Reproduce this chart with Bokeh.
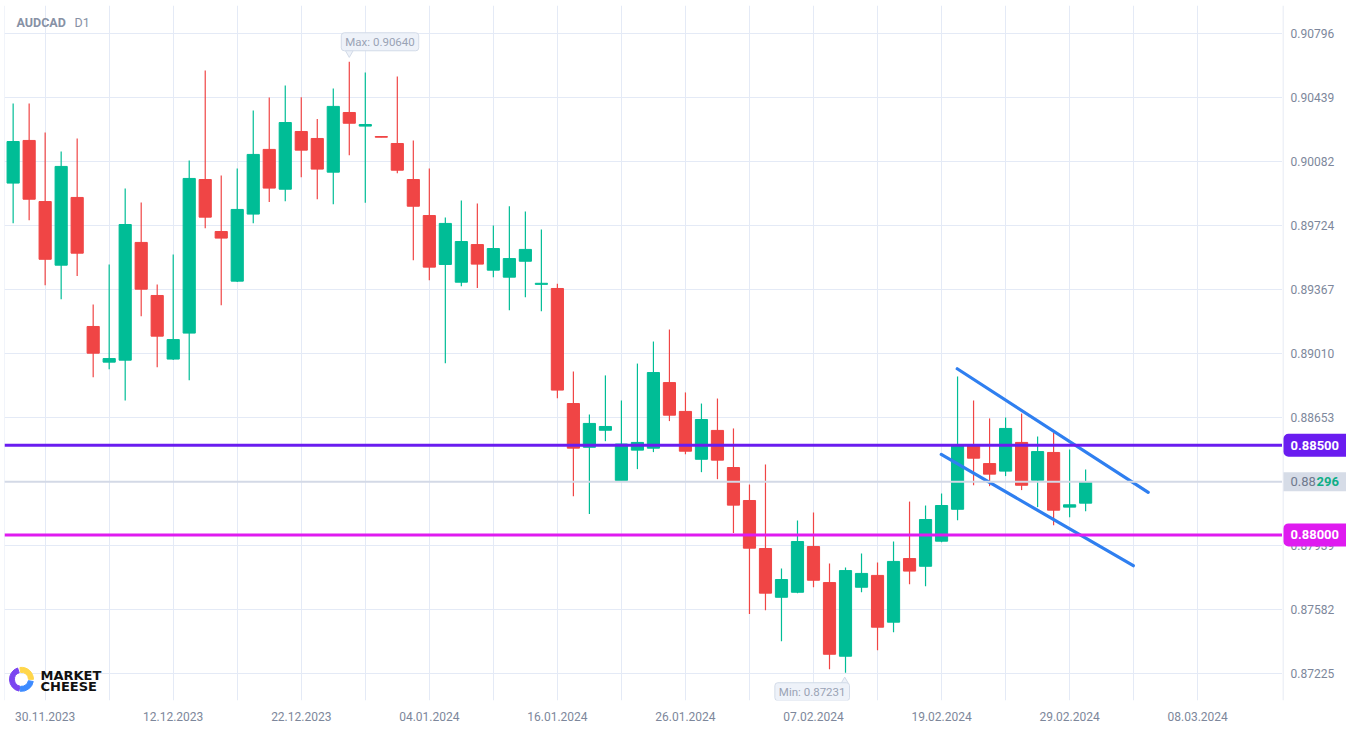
from bokeh.plotting import figure
from bokeh.layouts import row
from bokeh.models import (Range1d, FixedTicker, Span, Label, ColumnDataSource)
from bokeh.core.properties import value
from bokeh.embed import file_html
from bokeh.resources import INLINE

# ---------------- data ----------------
symbol = "AUDCAD"
timeframe = "D1"

opens = [0.89963, 0.90201, 0.89860, 0.89505, 0.89883, 0.89163, 0.88964, 0.88975, 0.89632, 0.89336,
         0.88981, 0.89126, 0.89983, 0.89693, 0.89416, 0.89790, 0.90151, 0.89929, 0.90251, 0.90212,
         0.90024, 0.90357, 0.90281, 0.90223, 0.90184, 0.89983, 0.89782, 0.89509, 0.89410, 0.89620,
         0.89477, 0.89438, 0.89527, 0.89398, 0.89375, 0.88733, 0.88489, 0.88584, 0.88304, 0.88473,
         0.88484, 0.88850, 0.88689, 0.88422, 0.88583, 0.88376, 0.88192, 0.87924, 0.87652, 0.87680,
         0.87935, 0.87734, 0.87323, 0.87708, 0.87774, 0.87513, 0.87868, 0.87825, 0.87965, 0.88143,
         0.88499, 0.88398, 0.88356, 0.88516, 0.88305, 0.88460, 0.88155, 0.88177]
highs = [0.90407, 0.90407, 0.90245, 0.90139, 0.90212, 0.89286, 0.89509, 0.89933, 0.89855, 0.89397,
         0.89565, 0.90089, 0.90591, 0.90006, 0.90045, 0.90368, 0.90441, 0.90508, 0.90442, 0.90320,
         0.90491, 0.90640, 0.90580, 0.90223, 0.90558, 0.90201, 0.90045, 0.89771, 0.89866, 0.89849,
         0.89727, 0.89834, 0.89805, 0.89704, 0.89401, 0.88912, 0.88672, 0.88890, 0.88750, 0.88956,
         0.89079, 0.89146, 0.88795, 0.88733, 0.88761, 0.88594, 0.88281, 0.88393, 0.87813, 0.88080,
         0.88125, 0.87840, 0.87818, 0.87896, 0.87846, 0.87963, 0.88186, 0.88164, 0.88231, 0.88884,
         0.88750, 0.88650, 0.88655, 0.88677, 0.88549, 0.88571, 0.88477, 0.88365]
lows = [0.89739, 0.89756, 0.89393, 0.89315, 0.89444, 0.88880, 0.88925, 0.88750, 0.89220, 0.88936,
        0.88976, 0.88863, 0.89711, 0.89282, 0.89411, 0.89739, 0.89857, 0.89862, 0.89996, 0.89873,
        0.89845, 0.90119, 0.89853, 0.90219, 0.90018, 0.89533, 0.89421, 0.88958, 0.89388, 0.89377,
        0.89438, 0.89254, 0.89326, 0.89248, 0.88763, 0.88216, 0.88116, 0.88523, 0.88301, 0.88367,
        0.88462, 0.88635, 0.88450, 0.88350, 0.88311, 0.88010, 0.87558, 0.87580, 0.87407, 0.87675,
        0.87708, 0.87251, 0.87231, 0.87680, 0.87357, 0.87457, 0.87725, 0.87714, 0.87959, 0.88082,
        0.88277, 0.88272, 0.88328, 0.88250, 0.88155, 0.88054, 0.88099, 0.88132]
closes = [0.90195, 0.89873, 0.89538, 0.90056, 0.89572, 0.89014, 0.88984, 0.89732, 0.89371, 0.89109,
          0.89090, 0.89989, 0.89773, 0.89656, 0.89816, 0.90123, 0.89935, 0.90301, 0.90147, 0.90041,
          0.90391, 0.90297, 0.90290, 0.90219, 0.90035, 0.89834, 0.89494, 0.89738, 0.89637, 0.89511,
          0.89598, 0.89542, 0.89593, 0.89404, 0.88808, 0.88484, 0.88622, 0.88605, 0.88507, 0.88516,
          0.88906, 0.88668, 0.88467, 0.88644, 0.88417, 0.88166, 0.87926, 0.87675, 0.87751, 0.87963,
          0.87747, 0.87334, 0.87801, 0.87785, 0.87485, 0.87852, 0.87798, 0.88086, 0.88164, 0.88499,
          0.88428, 0.88339, 0.88594, 0.88277, 0.88465, 0.88138, 0.88168, 0.88296]

date_labels = ["30.11.2023", "12.12.2023", "22.12.2023", "04.01.2024", "16.01.2024",
               "26.01.2024", "07.02.2024", "19.02.2024", "29.02.2024", "08.03.2024"]
date_label_index = [2, 10, 18, 26, 34, 42, 50, 58, 66, 74]

price_ticks = [0.87225, 0.87582, 0.87939, 0.88296, 0.88653, 0.89010,
               0.89367, 0.89724, 0.90082, 0.90439, 0.90796]
last_price = 0.88296
level_upper = 0.88500
level_lower = 0.88000
max_price, max_index = 0.90640, 21
min_price, min_index = 0.87231, 52

channel_upper_x = [58.98, 70.91]
channel_upper_y = [0.88927, 0.88237]
channel_lower_x = [57.98, 69.98]
channel_lower_y = [0.88449, 0.87828]

# ---------------- style ----------------
GREEN = "#00bd96"
RED = "#f04545"
GRID = "#e4eaf6"
TXT = "#7d879b"
FONT = "Roboto"
PURPLE = "#6a1cf0"
MAGENTA = "#df1bf0"
BLUE = "#2f7ff0"
TIP_BG, TIP_BORDER, TIP_TXT = "#eef2f9", "#d3dbe8", "#9aa3b5"

W, H = 1346, 729
AXW = 64                      # width of the price scale strip
BL, BT, BB = 4, 5, 29
X0, X1 = -0.54, 79.3
Y0, Y1 = 0.87076, 0.90954
PPU = (H - BT - BB) / (Y1 - Y0)   # pixels per price unit

# ---------------- main chart ----------------
p = figure(width=W - AXW, height=H, output_backend="svg", toolbar_location=None,
           x_range=Range1d(X0, X1), y_range=Range1d(Y0, Y1),
           min_border_left=BL, min_border_right=0, min_border_top=BT, min_border_bottom=BB,
           background_fill_color="white", border_fill_color="white",
           outline_line_color=None, y_axis_location=None)

p.xgrid.ticker = FixedTicker(ticks=list(range(date_label_index[0], date_label_index[-1] + 1, 4)))
p.ygrid.ticker = FixedTicker(ticks=price_ticks)
p.xgrid.grid_line_color = GRID
p.ygrid.grid_line_color = GRID
p.add_layout(Span(location=X0, dimension="height", line_color=GRID, line_width=1, level="underlay"))

xa = p.xaxis[0]
xa.ticker = FixedTicker(ticks=date_label_index)
xa.major_label_overrides = {i: d for i, d in zip(date_label_index, date_labels)}
xa.axis_line_color = None
xa.major_tick_line_color = None
xa.minor_tick_line_color = None
xa.major_label_text_color = TXT
xa.major_label_text_font = FONT
xa.major_label_text_font_size = "12px"
xa.major_label_standoff = 5

# candles
up = [i for i in range(len(opens)) if closes[i] >= opens[i]]
dn = [i for i in range(len(opens)) if closes[i] < opens[i]]
for ids, col in ((up, GREEN), (dn, RED)):
    src = ColumnDataSource(dict(
        x=ids,
        top=[max(opens[i], closes[i]) for i in ids],
        bottom=[min(opens[i], closes[i]) for i in ids],
        high=[highs[i] for i in ids],
        low=[lows[i] for i in ids]))
    p.segment(x0="x", y0="high", x1="x", y1="low", source=src, line_color=col, line_width=1.2)
    p.vbar(x="x", width=0.76, top="top", bottom="bottom", source=src,
           fill_color=col, line_color=col, line_width=1)

# price / level lines
p.add_layout(Span(location=last_price, dimension="width", line_color="#d3d9e6", line_width=2))
p.add_layout(Span(location=level_upper, dimension="width", line_color=PURPLE, line_width=3))
p.add_layout(Span(location=level_lower, dimension="width", line_color=MAGENTA, line_width=3))

# channel
p.line(channel_upper_x, channel_upper_y, line_color=BLUE, line_width=3.2, line_cap="round")
p.line(channel_lower_x, channel_lower_y, line_color=BLUE, line_width=3.2, line_cap="round")

# max / min callouts (pointer + box)
p.scatter(x=[max_index], y=[max_price + 9 / PPU], marker="inverted_triangle", size=8,
          fill_color=TIP_BG, line_color=TIP_BORDER)
p.scatter(x=[min_index - 0.05], y=[min_price - 9 / PPU], marker="triangle", size=8,
          fill_color=TIP_BG, line_color=TIP_BORDER)
p.add_layout(Label(x=max_index, y=max_price, x_offset=-8, y_offset=11, text=f"Max: {max_price:.5f}",
                   text_baseline="bottom", text_align="left", text_color=TIP_TXT,
                   text_font=FONT, text_font_size="11.5px",
                   background_fill_color=TIP_BG, border_line_color=TIP_BORDER, border_radius=3,
                   padding=dict(left=4, right=4, top=2, bottom=2)))
p.add_layout(Label(x=min_index, y=min_price, x_offset=4, y_offset=-10, text=f"Min: {min_price:.5f}",
                   text_baseline="top", text_align="right", text_color=TIP_TXT,
                   text_font=FONT, text_font_size="11.5px",
                   background_fill_color=TIP_BG, border_line_color=TIP_BORDER, border_radius=3,
                   padding=dict(left=4, right=4, top=2, bottom=2)))

# title
p.add_layout(Label(x=X0, y=Y1, x_offset=12, y_offset=-17, text=symbol, text_baseline="middle",
                   text_color="#8791a5", text_font=FONT, text_font_size="12.5px",
                   text_font_style="bold"))
p.add_layout(Label(x=X0, y=Y1, x_offset=70, y_offset=-17, text=timeframe, text_baseline="middle",
                   text_color="#8791a5", text_font=FONT, text_font_size="12.5px"))

# logo
p.add_layout(Label(x=X0, y=Y0, x_offset=36, y_offset=25, text="MARKET", text_baseline="middle",
                   text_color="#111111", text_font="DejaVu Sans", text_font_size="13px",
                   text_font_style="bold"))
p.add_layout(Label(x=X0, y=Y0, x_offset=36, y_offset=14, text="CHEESE", text_baseline="middle",
                   text_color="#111111", text_font="DejaVu Sans", text_font_size="13px",
                   text_font_style="bold"))
lx, ly = 0.52, 0.87194
p.annular_wedge(x=[lx], y=[ly], inner_radius=7, outer_radius=12, inner_radius_units="screen",
                outer_radius_units="screen", start_angle=1.9, end_angle=4.5, color="#7b45f0")
p.annular_wedge(x=[lx], y=[ly], inner_radius=7, outer_radius=12, inner_radius_units="screen",
                outer_radius_units="screen", start_angle=0.0, end_angle=1.7, color="#ffd64a")
p.annular_wedge(x=[lx], y=[ly], inner_radius=7, outer_radius=12, inner_radius_units="screen",
                outer_radius_units="screen", start_angle=4.6, end_angle=6.1, color="#3d8bff")

# ---------------- price scale strip ----------------
q = figure(width=AXW, height=H, output_backend="svg", toolbar_location=None,
           x_range=Range1d(0, AXW), y_range=p.y_range,
           min_border_left=0, min_border_right=0, min_border_top=BT, min_border_bottom=BB,
           background_fill_color="white", border_fill_color="white",
           outline_line_color=None, x_axis_location=None, y_axis_location=None)
q.xgrid.visible = False
q.ygrid.visible = False
q.add_layout(Span(location=0.5, dimension="height", line_color="#dde4f0", line_width=1))

scale_ticks = [t for t in price_ticks if abs(t - last_price) > 1e-6]
q.text(x=[8] * len(scale_ticks), y=scale_ticks, text=[f"{t:.5f}" for t in scale_ticks],
       text_baseline="middle", text_align="left", text_color=TXT,
       text_font=value(FONT), text_font_size="12px")

def axis_box(txt, v, bg, fg):
    q.add_layout(Label(x=1, y=v, text=txt, text_baseline="middle", text_align="left",
                       text_color=fg, text_font=FONT, text_font_size="13px", text_font_style="bold",
                       background_fill_color=bg, border_radius=5,
                       padding=dict(left=7, right=14, top=7, bottom=7)))

axis_box(f"{level_upper:.5f}", level_upper, PURPLE, "white")
axis_box(f"{level_lower:.5f}", level_lower, MAGENTA, "white")
lp = f"{last_price:.5f}"
q.add_layout(Label(x=1, y=last_price, text=lp[:4], text_baseline="middle", text_align="left",
                   text_color="#6f7a8e", text_font=FONT, text_font_size="13px",
                   background_fill_color="#d6dce7", padding=dict(left=7, right=40, top=5, bottom=5)))
q.add_layout(Label(x=34, y=last_price, text=lp[4:], text_baseline="middle", text_align="left",
                   text_color="#0fae86", text_font=FONT, text_font_size="13px",
                   text_font_style="bold"))

layout = row(p, q, spacing=0)
open("out.html", "w").write(file_html(layout, INLINE))
